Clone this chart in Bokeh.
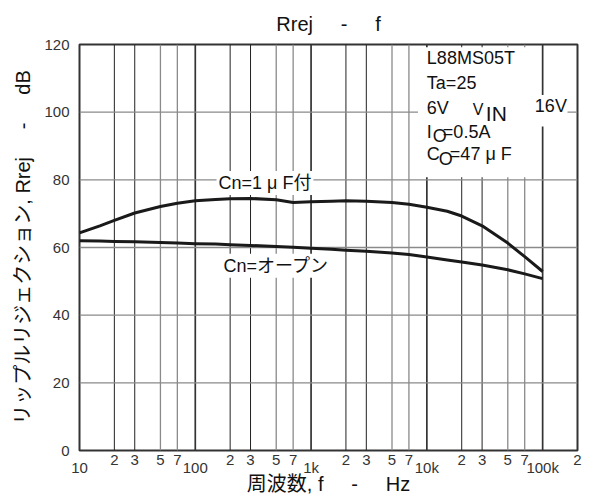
from bokeh.plotting import figure
from bokeh.models import (FixedTicker, Label, BoxAnnotation,
                          CustomJSTickFormatter, Range1d)
from bokeh.embed import file_html
from bokeh.resources import INLINE

LATIN = "Liberation Sans"
MIXED = "'Liberation Sans', 'Noto Sans CJK JP'"
SP = "\u00a0" * 5

# Ripple rejection vs frequency (L88MS05T)
freq = [10, 15, 20, 30, 50, 70, 100, 150, 200, 300, 500, 700, 1000, 1500,
        2000, 3000, 5000, 7000, 10000, 15000, 20000, 30000, 50000, 70000, 100000]
rrej_cn_1uF = [64.3, 66.4, 68.0, 70.2, 72.1, 73.1, 73.8, 74.2, 74.4, 74.5, 74.1,
               73.3, 73.5, 73.7, 73.8, 73.7, 73.3, 72.8, 71.9, 70.7, 69.3, 66.4,
               61.3, 57.3, 52.9]
rrej_cn_open = [62.0, 61.9, 61.8, 61.7, 61.5, 61.3, 61.1, 61.0, 60.8, 60.6, 60.3,
                60.1, 59.8, 59.5, 59.2, 58.9, 58.4, 57.9, 57.2, 56.3, 55.7, 54.8,
                53.4, 52.2, 50.8]

decade_ticks = [10, 100, 1000, 10000, 100000]
decade_labels = ["10", "100", "1k", "10k", "100k"]
minor_ticks = [20, 30, 50, 70, 200, 300, 500, 700, 2000, 3000, 5000, 7000,
               20000, 30000, 50000, 70000, 200000]
minor_labels = ["2", "3", "5", "7"] * 4 + ["2"]
y_ticks = [0, 20, 40, 60, 80, 100, 120]

p = figure(width=601, height=499, x_axis_type="log",
           x_range=Range1d(10, 200000), y_range=Range1d(0, 120),
           output_backend="svg", toolbar_location=None,
           min_border_left=79, min_border_right=24,
           min_border_top=43, min_border_bottom=49)
p.background_fill_color = "white"
p.border_fill_color = "white"
p.outline_line_color = "#333333"
p.outline_line_width = 2
p.grid.visible = False

# grid drawn by hand: decades dark, 2/3 black thin, 5/7 gray
x_max = 200000
dark_x = decade_ticks[1:]
mid_x = [t for t, l in zip(minor_ticks, minor_labels) if l in ("2", "3") and t < x_max]
light_x = [t for t, l in zip(minor_ticks, minor_labels) if l in ("5", "7")]
p.segment(x0=dark_x, y0=0, x1=dark_x, y1=120, line_color="#333333", line_width=1.7)
p.segment(x0=mid_x, y0=0, x1=mid_x, y1=120, line_color="#222222", line_width=1.0)
p.segment(x0=light_x, y0=0, x1=light_x, y1=120, line_color="#8a8a8a", line_width=1.3)
h_y = y_ticks[1:-1]
p.segment(x0=10, y0=h_y, x1=x_max, y1=h_y, line_color="#8a8a8a", line_width=1.3)

# curves
p.line(freq, rrej_cn_1uF, line_color="#1a1a1a", line_width=3, line_join="round")
p.line(freq, rrej_cn_open, line_color="#1a1a1a", line_width=3, line_join="round")

# white panel behind the condition notes
p.add_layout(BoxAnnotation(left=8400, right=94000, bottom=80.8, top=119.2,
                           fill_color="white", fill_alpha=1.0, line_color=None))
p.add_layout(BoxAnnotation(left=8400, right=164000, bottom=95.8, top=105.1,
                           fill_color="white", fill_alpha=1.0, line_color=None))


def note(x, y, text, size="18px", x_offset=0, y_offset=0, align="left", bg=None):
    lab = Label(x=x, y=y, text=text, x_offset=x_offset, y_offset=y_offset,
                text_font=MIXED, text_font_size=size, text_color="#111111",
                text_align=align, text_baseline="middle")
    if bg:
        lab.background_fill_color = bg
        lab.padding = 2
    p.add_layout(lab)


note(10000, 116.1, "L88MS05T")
note(10000, 108.7, "Ta=25")
note(10000, 101.3, "6V")
note(10000, 100.9, "V", size="16px", x_offset=46)
note(10000, 99.5, "IN", size="21px", x_offset=59)
note(10000, 101.7, "16V", x_offset=108)
note(10000, 94.2, "I")
note(10000, 92.9, "O", x_offset=6)
note(10000, 94.1, "=0.5A", x_offset=16)
note(10000, 87.7, "C")
note(10000, 86.2, "O", x_offset=12)
note(10000, 87.7, "=47 μ F", x_offset=23)

note(400, 79.1, "Cn=1 μ F付", align="center", bg="white")
note(500, 54.6, "Cn=オープン", align="center", bg="white")

# title
p.title.text = "Rrej" + SP + "-" + SP + "f"
p.title.align = "center"
p.title.text_font = LATIN
p.title.text_font_size = "20px"
p.title.text_font_style = "normal"
p.title.text_color = "#111111"
p.title.standoff = 20

# y axis
ya = p.yaxis[0]
ya.ticker = FixedTicker(ticks=y_ticks)
ya.major_tick_line_color = None
ya.minor_tick_line_color = None
ya.axis_line_color = None
ya.major_label_standoff = 4
ya.major_label_text_font = LATIN
ya.major_label_text_font_size = "15px"
ya.major_label_text_color = "#333333"
ya.axis_label = "リップルリジェクション, Rrej" + SP + "-" + SP + "dB"
ya.axis_label_text_font = MIXED
ya.axis_label_text_font_size = "20px"
ya.axis_label_text_font_style = "normal"
ya.axis_label_text_color = "#111111"
ya.axis_label_standoff = 7

# decade labels go on a second line so they sit a little lower than the digits
fmt_code = """
const lt = Math.log10(tick);
for (let i = 0; i < tvals.length; i++) {
  if (Math.abs(Math.log10(tvals[i]) - lt) < 1e-6) return tnames[i];
}
for (let i = 0; i < dvals.length; i++) {
  if (Math.abs(Math.log10(dvals[i]) - lt) < 1e-6) return "\\n" + dnames[i];
}
return "";
"""

xa = p.xaxis[0]
xa.ticker = FixedTicker(ticks=sorted(minor_ticks + decade_ticks))
xa.formatter = CustomJSTickFormatter(
    args=dict(tvals=minor_ticks, tnames=minor_labels,
              dvals=decade_ticks, dnames=decade_labels),
    code=fmt_code)
xa.major_tick_line_color = None
xa.minor_tick_line_color = None
xa.axis_line_color = None
xa.major_label_standoff = -6
xa.major_label_text_font = LATIN
xa.major_label_text_font_size = "15px"
xa.major_label_text_line_height = 0.5
xa.major_label_text_color = "#333333"
xa.axis_label = "周波数, f" + SP + "-" + SP + "Hz"
xa.axis_label_text_font = MIXED
xa.axis_label_text_font_size = "20px"
xa.axis_label_text_font_style = "normal"
xa.axis_label_text_color = "#111111"
xa.axis_label_standoff = -6

open("out.html", "w").write(file_html(p, INLINE))
